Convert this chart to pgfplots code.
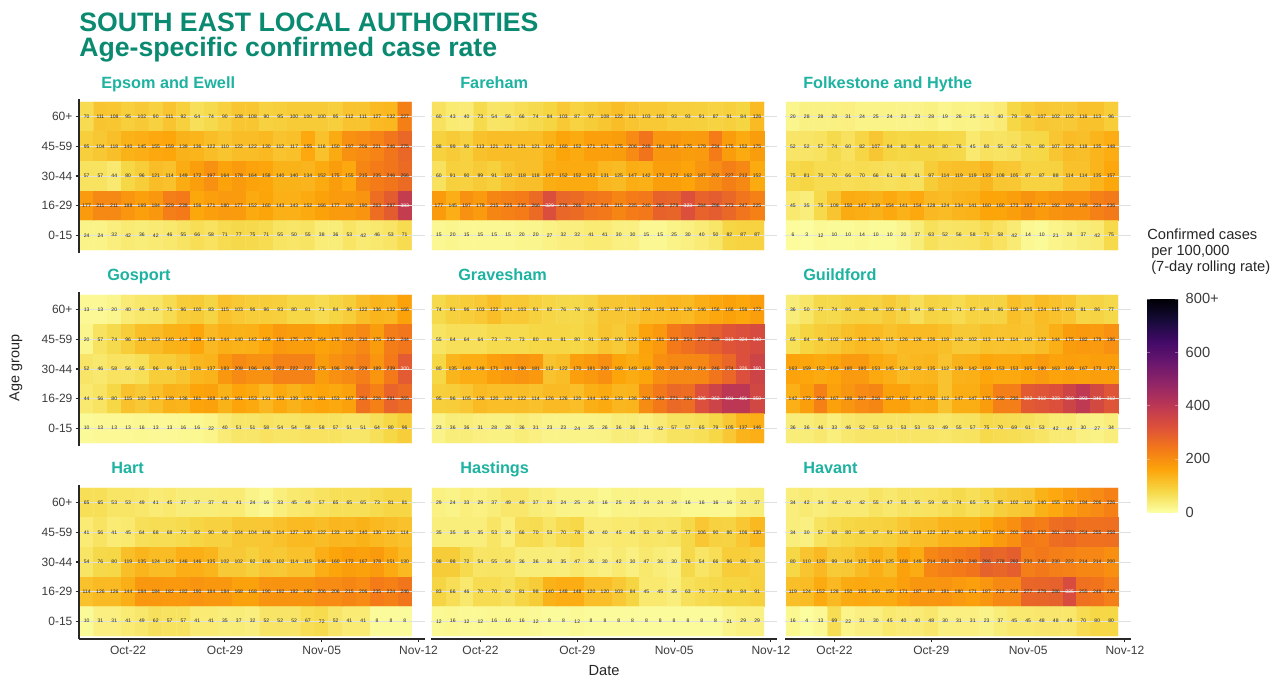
\documentclass[border=0pt]{standalone}
\usepackage{pgfplots}
\usepackage{pgfplotstable}
\usepackage{fontspec}
\setmainfont{Liberation Sans}
\pgfplotsset{compat=1.18}
\definecolor{titlegreen}{RGB}{10,138,112}
\definecolor{paneltitle}{RGB}{30,178,160}
\definecolor{axisdark}{RGB}{40,40,40}
\definecolor{ticktext}{RGB}{60,60,60}
\pgfplotsset{colormap={infr}{rgb255=(252,255,164) rgb255=(246,215,70) rgb255=(252,165,10) rgb255=(243,120,25) rgb255=(221,81,58) rgb255=(188,55,84) rgb255=(147,38,103) rgb255=(106,23,110) rgb255=(66,10,104) rgb255=(22,11,57) rgb255=(0,0,4)}}
% Each table: rows from 60+ down to 0-15, 24 daily values per row (19 Oct to 11 Nov)
\pgfplotstableread[row sep=\\,header=false]{
70\\111\\108\\95\\102\\90\\111\\92\\64\\74\\90\\108\\108\\90\\95\\100\\100\\100\\95\\112\\111\\127\\132\\227\\
95\\104\\118\\140\\145\\155\\159\\139\\136\\122\\110\\122\\122\\130\\112\\117\\155\\116\\150\\197\\206\\221\\246\\275\\
57\\57\\44\\80\\96\\121\\114\\149\\172\\197\\164\\178\\164\\158\\140\\140\\134\\152\\175\\155\\215\\235\\246\\266\\
177\\211\\211\\188\\169\\184\\229\\239\\156\\171\\180\\177\\152\\160\\143\\143\\152\\166\\177\\180\\190\\263\\297\\383\\
24\\24\\32\\42\\36\\42\\46\\55\\66\\58\\71\\77\\75\\71\\55\\50\\55\\38\\36\\53\\42\\46\\53\\71\\
}\tEpsom
\pgfplotstableread[row sep=\\,header=false]{
60\\43\\40\\73\\54\\56\\66\\74\\84\\103\\87\\97\\108\\122\\111\\103\\103\\93\\93\\91\\87\\91\\84\\126\\
88\\99\\90\\113\\121\\121\\121\\121\\140\\160\\152\\171\\171\\175\\206\\249\\184\\184\\175\\179\\234\\175\\152\\175\\
60\\91\\90\\99\\91\\110\\118\\118\\147\\152\\152\\152\\131\\125\\147\\142\\172\\172\\162\\187\\202\\227\\212\\152\\
177\\145\\197\\179\\215\\225\\235\\266\\329\\276\\266\\247\\241\\215\\235\\240\\285\\279\\323\\284\\296\\273\\247\\225\\
15\\20\\15\\15\\15\\15\\20\\20\\27\\32\\32\\41\\41\\30\\30\\15\\15\\25\\30\\40\\50\\82\\87\\87\\
}\tFareham
\pgfplotstableread[row sep=\\,header=false]{
20\\28\\28\\28\\31\\24\\25\\24\\23\\23\\28\\19\\26\\25\\31\\40\\79\\96\\107\\102\\102\\116\\113\\96\\
52\\52\\57\\74\\60\\82\\107\\84\\80\\84\\84\\80\\76\\45\\60\\55\\62\\76\\80\\107\\123\\118\\135\\148\\
75\\81\\70\\70\\66\\70\\66\\61\\66\\61\\97\\114\\119\\119\\133\\108\\105\\87\\87\\88\\114\\114\\135\\157\\
45\\35\\75\\109\\150\\147\\139\\154\\141\\154\\128\\124\\134\\141\\160\\160\\173\\192\\177\\192\\199\\199\\224\\236\\
6\\3\\12\\10\\10\\14\\10\\10\\20\\37\\63\\52\\56\\58\\71\\58\\42\\14\\10\\21\\28\\37\\42\\75\\
}\tFolkestone
\pgfplotstableread[row sep=\\,header=false]{
13\\13\\20\\40\\49\\50\\71\\96\\100\\83\\115\\103\\96\\96\\93\\80\\81\\71\\84\\96\\122\\136\\132\\166\\
20\\57\\74\\96\\119\\123\\140\\142\\159\\128\\144\\140\\142\\159\\181\\175\\175\\164\\175\\192\\210\\175\\232\\244\\
52\\46\\58\\56\\65\\96\\96\\111\\131\\137\\183\\208\\196\\196\\222\\222\\222\\175\\196\\208\\229\\189\\239\\300\\
44\\56\\80\\115\\102\\117\\139\\136\\161\\168\\140\\161\\153\\131\\153\\139\\153\\161\\153\\167\\254\\226\\281\\265\\
10\\13\\13\\13\\16\\13\\13\\16\\16\\22\\40\\51\\51\\58\\54\\54\\58\\58\\57\\51\\51\\64\\80\\96\\
}\tGosport
\pgfplotstableread[row sep=\\,header=false]{
74\\91\\96\\103\\122\\101\\103\\91\\82\\76\\76\\86\\107\\107\\111\\124\\126\\132\\126\\146\\156\\166\\156\\172\\
55\\64\\64\\64\\73\\73\\73\\80\\81\\81\\80\\91\\109\\100\\122\\163\\181\\239\\254\\277\\289\\313\\324\\340\\
80\\135\\148\\148\\171\\181\\190\\181\\112\\122\\170\\181\\200\\160\\149\\160\\200\\209\\209\\214\\246\\274\\326\\360\\
95\\96\\105\\126\\120\\120\\122\\114\\126\\126\\120\\144\\152\\133\\136\\204\\240\\271\\263\\326\\362\\401\\401\\350\\
23\\36\\36\\31\\28\\28\\36\\31\\23\\23\\24\\25\\26\\36\\36\\31\\42\\57\\57\\65\\79\\105\\137\\146\\
}\tGravesham
\pgfplotstableread[row sep=\\,header=false]{
36\\50\\77\\74\\86\\88\\86\\100\\86\\64\\86\\81\\71\\87\\86\\86\\119\\105\\124\\115\\108\\81\\86\\77\\
65\\84\\96\\102\\119\\130\\126\\115\\126\\126\\126\\119\\102\\102\\113\\112\\114\\110\\122\\144\\175\\182\\179\\196\\
163\\159\\152\\159\\180\\180\\153\\145\\124\\132\\135\\112\\139\\142\\159\\153\\153\\165\\180\\163\\169\\167\\173\\173\\
142\\172\\224\\167\\186\\207\\216\\167\\167\\147\\150\\112\\147\\147\\175\\230\\230\\302\\312\\323\\360\\393\\346\\312\\
36\\36\\46\\33\\46\\52\\53\\53\\53\\53\\53\\49\\55\\57\\75\\70\\69\\61\\53\\42\\42\\30\\27\\34\\
}\tGuildford
\pgfplotstableread[row sep=\\,header=false]{
65\\65\\53\\53\\49\\41\\45\\37\\37\\37\\41\\41\\24\\16\\33\\45\\49\\57\\65\\65\\65\\73\\81\\81\\
41\\56\\41\\45\\64\\68\\68\\73\\82\\90\\90\\104\\104\\106\\114\\127\\130\\122\\133\\132\\140\\130\\122\\114\\
54\\76\\80\\119\\135\\124\\124\\146\\146\\135\\102\\102\\92\\106\\102\\114\\115\\146\\160\\172\\167\\178\\151\\130\\
114\\126\\126\\144\\184\\184\\182\\182\\190\\184\\184\\168\\168\\190\\192\\192\\192\\206\\206\\215\\206\\235\\224\\246\\
10\\31\\31\\41\\49\\62\\57\\57\\41\\41\\35\\37\\32\\52\\52\\52\\67\\72\\52\\41\\41\\8\\8\\8\\
}\tHart
\pgfplotstableread[row sep=\\,header=false]{
29\\24\\33\\29\\37\\49\\49\\37\\33\\24\\25\\24\\16\\25\\25\\24\\24\\24\\16\\16\\16\\16\\33\\37\\
35\\35\\35\\35\\53\\33\\66\\70\\53\\70\\78\\40\\40\\45\\45\\53\\50\\55\\77\\106\\90\\86\\106\\130\\
98\\98\\72\\54\\55\\54\\36\\36\\36\\35\\47\\36\\30\\42\\30\\47\\36\\30\\76\\54\\66\\96\\96\\90\\
83\\66\\46\\70\\70\\62\\81\\98\\140\\148\\148\\120\\120\\103\\84\\45\\45\\35\\63\\70\\77\\84\\84\\91\\
12\\16\\12\\12\\16\\16\\16\\12\\8\\8\\12\\8\\8\\8\\8\\8\\8\\8\\8\\8\\8\\21\\29\\29\\
}\tHastings
\pgfplotstableread[row sep=\\,header=false]{
34\\42\\34\\42\\42\\42\\55\\47\\55\\55\\59\\65\\74\\65\\75\\95\\102\\110\\140\\155\\176\\194\\206\\226\\
34\\30\\57\\68\\80\\85\\87\\91\\106\\119\\122\\137\\140\\140\\157\\180\\200\\240\\232\\261\\270\\254\\255\\258\\
80\\110\\128\\99\\104\\125\\144\\125\\168\\149\\214\\230\\239\\248\\286\\278\\292\\230\\240\\230\\222\\214\\214\\200\\
119\\124\\152\\128\\150\\155\\150\\150\\171\\187\\187\\191\\180\\171\\187\\212\\212\\277\\279\\286\\335\\255\\248\\230\\
16\\4\\13\\69\\22\\31\\30\\45\\40\\40\\48\\30\\31\\31\\23\\37\\45\\45\\48\\48\\49\\70\\80\\80\\
}\tHavant
\pgfplotsset{
  panelbase/.style={
    scale only axis, width=259.35pt, height=115.5pt,
    anchor=south west,
    xmin=-0.55, xmax=24.45, ymin=-0.6, ymax=4.6,
    y dir=reverse,
    colormap name=infr, point meta min=0, point meta max=800,
    ytick={0,1,2,3,4},
    ymajorgrids, major grid style={draw=black!12, line width=0.5pt},
    axis x line=bottom, axis y line=left,
    axis line style={-, draw=axisdark, line width=1pt},
    tick align=outside,
    major tick length=2.6pt,
    tick style={draw=axisdark, line width=0.8pt},
    ticklabel style={font=\fontsize{9pt}{10pt}\selectfont, text=ticktext},
    yticklabel style={xshift=1.2pt},
    xticklabel style={yshift=0.8pt},
    clip=false,
  },
  firstcol/.style={yticklabels={60+,45-59,30-44,16-29,0-15}},
  otherscol/.style={yticklabels={}, y axis line style={draw=none}, ytick style={draw=none}, major tick length=2.6pt},
  bottomrow/.style={xtick={3,10,17,24}, xticklabels={Oct-22,Oct-29,Nov-05,Nov-12}},
  upperrow/.style={xtick=\empty, x axis line style={draw=none}},
}
\newcommand{\cellnum}{\pgfmathprintnumber[fixed,precision=0,assume math mode=true]{\val}}
\newcommand{\cells}[1]{%
  \addplot[matrix plot, faceted color=white!88!orange, line width=0.25pt, mesh/cols=24, mesh/rows=5, point meta=explicit]
    table[x index=0, y index=0, x expr={int(mod(\coordindex,24))}, y expr={int(floor(\coordindex/24))}, meta index=0] {#1};
  \addplot[only marks, mark=none, visualization depends on={\thisrowno{0} \as \val},
    nodes near coords={\ifdim\val pt>299pt \textcolor{white}{\cellnum}\else\textcolor{black!85}{\cellnum}\fi},
    nodes near coords style={anchor=center, inner sep=0pt, font=\fontsize{3.8pt}{4pt}\selectfont}]
    table[x index=0, y index=0, x expr={int(mod(\coordindex,24))}, y expr={int(floor(\coordindex/24))}] {#1};
}
\begin{document}
\begin{tikzpicture}[x=0.75pt,y=0.75pt]
\useasboundingbox (0,0) rectangle (1285,679);
\node[anchor=base west, inner sep=0pt, font=\fontsize{20pt}{24pt}\selectfont\bfseries, text=titlegreen] at (79,647) {SOUTH EAST LOCAL AUTHORITIES};
\node[anchor=base west, inner sep=0pt, font=\fontsize{20pt}{24pt}\selectfont\bfseries, text=titlegreen] at (79,622) {Age-specific confirmed case rate};

\begin{axis}[panelbase, firstcol, upperrow, at={(59.25pt,319.5pt)}] \cells{\tEpsom} \end{axis}
\begin{axis}[panelbase, otherscol, upperrow, at={(323.5pt,319.5pt)}] \cells{\tFareham} \end{axis}
\begin{axis}[panelbase, otherscol, upperrow, at={(589pt,319.5pt)}] \cells{\tFolkestone} \end{axis}
\begin{axis}[panelbase, firstcol, upperrow, at={(59.25pt,174.75pt)}] \cells{\tGosport} \end{axis}
\begin{axis}[panelbase, otherscol, upperrow, at={(323.5pt,174.75pt)}] \cells{\tGravesham} \end{axis}
\begin{axis}[panelbase, otherscol, upperrow, at={(589pt,174.75pt)},
  colorbar, colorbar/width=23.25pt, colorbar style={
    at={(1.046,0.955)}, anchor=north west,
    scale only axis, height=160pt,
    ytick={0,200,400,600,800}, yticklabels={0,200,400,600,800+},
    yticklabel style={font=\fontsize{11pt}{12pt}\selectfont, text=ticktext, xshift=2.2pt},
    axis line style={draw=none},
    major tick length=2.5pt,
    ytick style={draw=white, opacity=0.35, line width=0.4pt},
    tick align=inside,
  }] \cells{\tGuildford} \end{axis}
\begin{axis}[panelbase, firstcol, bottomrow, at={(59.25pt,30pt)}] \cells{\tHart} \end{axis}
\begin{axis}[panelbase, otherscol, bottomrow, at={(323.5pt,30pt)}] \cells{\tHastings} \end{axis}
\begin{axis}[panelbase, otherscol, bottomrow, at={(589pt,30pt)}] \cells{\tHavant} \end{axis}

\tikzset{ptitle/.style={anchor=base west, inner sep=0pt, font=\fontsize{12.2pt}{13pt}\selectfont\bfseries, text=paneltitle}}
\node[ptitle] at (101,590) {Epsom and Ewell};
\node[ptitle] at (460,590) {Fareham};
\node[ptitle] at (803,590) {Folkestone and Hythe};
\node[ptitle] at (107,398) {Gosport};
\node[ptitle] at (458,398) {Gravesham};
\node[ptitle] at (803,398) {Guildford};
\node[ptitle] at (111,205) {Hart};
\node[ptitle] at (460,205) {Hastings};
\node[ptitle] at (803,205) {Havant};

\node[rotate=90, inner sep=0pt, font=\fontsize{10.8pt}{12pt}\selectfont, text=black!85] at (16,311) {Age group};
\node[inner sep=0pt, font=\fontsize{11pt}{12pt}\selectfont, text=black!85] at (604,8) {Date};
\tikzset{ltitle/.style={anchor=base west, inner sep=0pt, font=\fontsize{11pt}{12pt}\selectfont, text=black!85}}
\node[ltitle] at (1147,439.5) {Confirmed cases};
\node[ltitle] at (1151,423) {per 100,000};
\node[ltitle] at (1151,407) {(7-day rolling rate)};
\end{tikzpicture}
\end{document}
